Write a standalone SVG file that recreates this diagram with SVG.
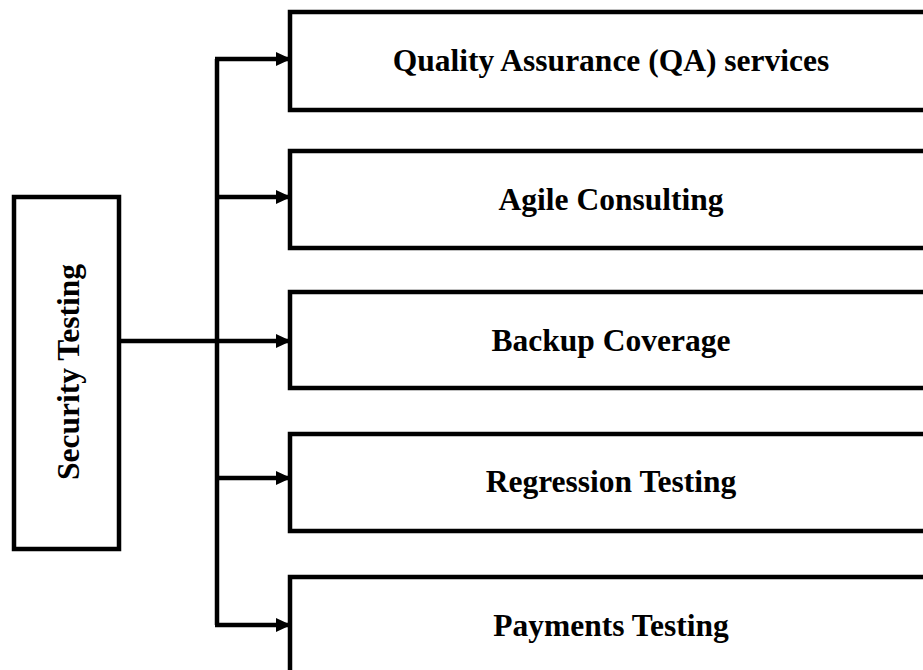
<svg xmlns="http://www.w3.org/2000/svg" width="923" height="670" viewBox="0 0 923 670">
<defs>
<marker id="arr" markerWidth="15" markerHeight="14" refX="14" refY="7" orient="auto" markerUnits="userSpaceOnUse">
<path d="M0,0 L15,7 L0,14 Z" fill="#000"/>
</marker>
<style>
.box{fill:#fff;stroke:#000;stroke-width:4.5}
.lbl{font-family:"Liberation Serif","Times New Roman",serif;font-weight:bold;font-size:31.5px;fill:#000;text-anchor:middle;dominant-baseline:central}
.ln{fill:none;stroke:#000;stroke-width:4.5}
</style>
</defs>
<rect width="923" height="670" fill="#fff"/>
<g id="connectors">
<path class="ln" d="M120,341 H217"/>
<path class="ln" d="M217,59 V625"/>
<path class="ln" d="M215,59 H290" marker-end="url(#arr)"/>
<path class="ln" d="M217,197 H290" marker-end="url(#arr)"/>
<path class="ln" d="M217,341 H290" marker-end="url(#arr)"/>
<path class="ln" d="M217,478 H290" marker-end="url(#arr)"/>
<path class="ln" d="M215,625 H290" marker-end="url(#arr)"/>
</g>
<g id="security-testing">
<rect class="box" x="14" y="197" width="105" height="352"/>
<text class="lbl" transform="translate(68,372) rotate(-90)">Security Testing</text>
</g>
<g id="qa-services">
<rect class="box" x="290" y="12" width="645" height="98"/>
<text class="lbl" x="611" y="60">Quality Assurance (QA) services</text>
</g>
<g id="agile-consulting">
<rect class="box" x="290" y="151" width="645" height="97"/>
<text class="lbl" x="611" y="199">Agile Consulting</text>
</g>
<g id="backup-coverage">
<rect class="box" x="290" y="292" width="645" height="96"/>
<text class="lbl" x="611" y="340">Backup Coverage</text>
</g>
<g id="regression-testing">
<rect class="box" x="290" y="434" width="645" height="97"/>
<text class="lbl" x="611" y="481">Regression Testing</text>
</g>
<g id="payments-testing">
<rect class="box" x="290" y="577" width="645" height="110"/>
<text class="lbl" x="611" y="625">Payments Testing</text>
</g>
</svg>
